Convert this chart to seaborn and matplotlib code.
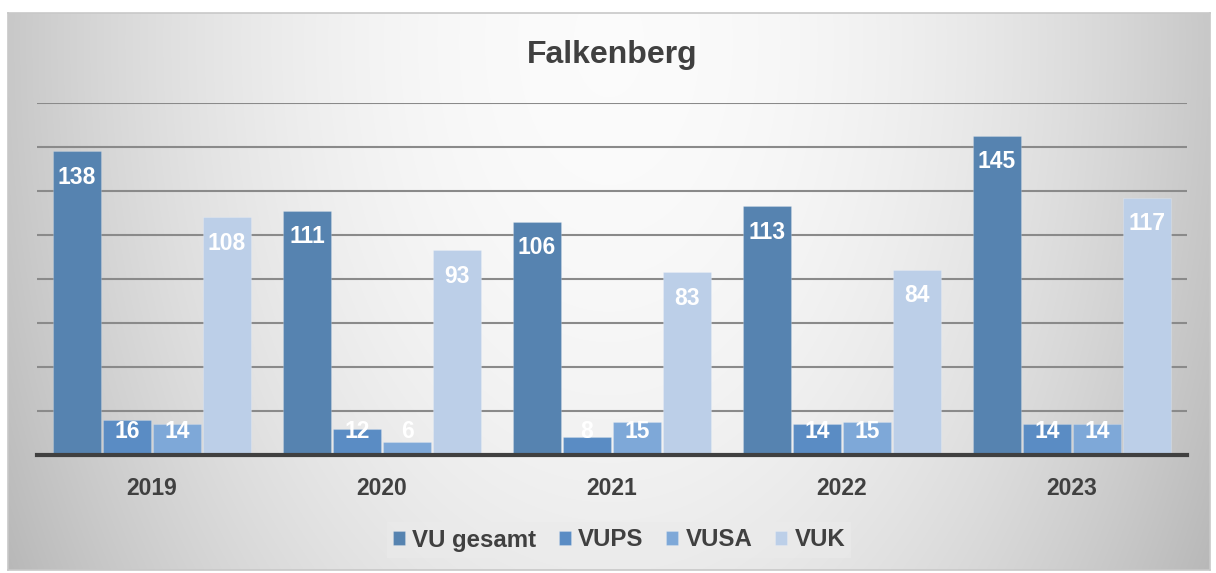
import numpy as np
import pandas as pd
import matplotlib
matplotlib.use("Agg")
import matplotlib.pyplot as plt
import seaborn as sns

years = ["2019", "2020", "2021", "2022", "2023"]
series = ["VU gesamt", "VUPS", "VUSA", "VUK"]
vu_gesamt = [138, 111, 106, 113, 145]
vups = [16, 12, 8, 14, 14]
vusa = [14, 6, 15, 15, 14]
vuk = [108, 93, 83, 84, 117]
colors = ["#5683b0", "#5a8cc4", "#7ea8d8", "#bccfe8"]

rows = []
for name, vals in zip(series, [vu_gesamt, vups, vusa, vuk]):
    for y, v in zip(years, vals):
        rows.append({"Jahr": y, "Serie": name, "Wert": v})
df = pd.DataFrame(rows)

sns.set_theme(style="white")
plt.rcParams["font.family"] = ["Liberation Sans", "DejaVu Sans"]

W, H = 1216, 573
fig = plt.figure(figsize=(W / 100, H / 100), dpi=100)
fig.patch.set_facecolor("white")

# background panel with radial gradient
bx0, by0, bx1, by1 = 8, 13, 1210, 570
bg = fig.add_axes([bx0 / W, 1 - by1 / H, (bx1 - bx0) / W, (by1 - by0) / H], zorder=-5)
gx = np.linspace(-1, 1, 400)
gy = np.linspace(0, 1, 200)
X, Y = np.meshgrid(gx, gy)
R2 = X ** 2 + ((Y - 0.05) / 1.7) ** 2
Z = 0.985 - 0.2 * R2
Z = np.clip(Z, 0, 1)
bg.imshow(np.dstack([Z, Z, Z]), aspect="auto", extent=[0, 1, 1, 0], interpolation="bilinear")
bg.set_xticks([]); bg.set_yticks([])
for s in bg.spines.values():
    s.set_color("#c8c8c8")
    s.set_linewidth(1.2)

ax = fig.add_axes([37 / W, 1 - 455 / H, (1187 - 37) / W, (455 - 103) / H])
ax.set_facecolor("none")

sns.barplot(data=df, x="Jahr", y="Wert", hue="Serie", order=years, hue_order=series,
            palette=colors, width=0.87, gap=0.04, ax=ax, saturation=1, legend=True,
            edgecolor="#ffffff30", linewidth=0.8)

ax.set_ylim(0, 160)
ax.set_xlim(-0.5, 4.5)
ax.set_yticks(np.arange(0, 161, 20))
ax.yaxis.grid(True, color="#8a8a8a", linewidth=1.5)
ax.set_axisbelow(True)
ax.set_yticklabels([])
ax.tick_params(axis="y", length=0)
ax.tick_params(axis="x", length=0, pad=16)
ax.set_xlabel("")
ax.set_ylabel("")
for lab in ax.get_xticklabels():
    lab.set_fontsize(16.5)
    lab.set_fontweight("bold")
    lab.set_color("#404040")
for s in ["top", "right", "left"]:
    ax.spines[s].set_visible(False)
ax.spines["bottom"].set_color("#404040")
ax.spines["bottom"].set_linewidth(3)
ax.spines["bottom"].set_zorder(5)

for cont in ax.containers:
    for p in cont.patches:
        h = p.get_height()
        xc = p.get_x() + p.get_width() / 2
        yy = max(h - 11.7, 10.5)
        ax.text(xc, yy, f"{h:.0f}", ha="center", va="center", color="white",
                fontsize=16.5, fontweight="bold", zorder=6)

handles, labels = ax.get_legend_handles_labels()
ax.legend(handles, labels, loc="center", bbox_to_anchor=(619 / W, 1 - 540 / H),
          bbox_transform=fig.transFigure, ncol=4, frameon=True, facecolor="#ebebeb",
          edgecolor="none", framealpha=0.6, fancybox=False,
          prop={"weight": "bold", "size": 17.3}, labelcolor="#404040",
          handlelength=0.5, handleheight=0.5, handletextpad=0.3, columnspacing=0.95,
          borderpad=0.25, borderaxespad=0)

fig.text(612 / W, 1 - 55 / H, "Falkenberg", ha="center", va="center",
         fontsize=23, fontweight="bold", color="#404040")

fig.savefig("out.png", dpi=100)
